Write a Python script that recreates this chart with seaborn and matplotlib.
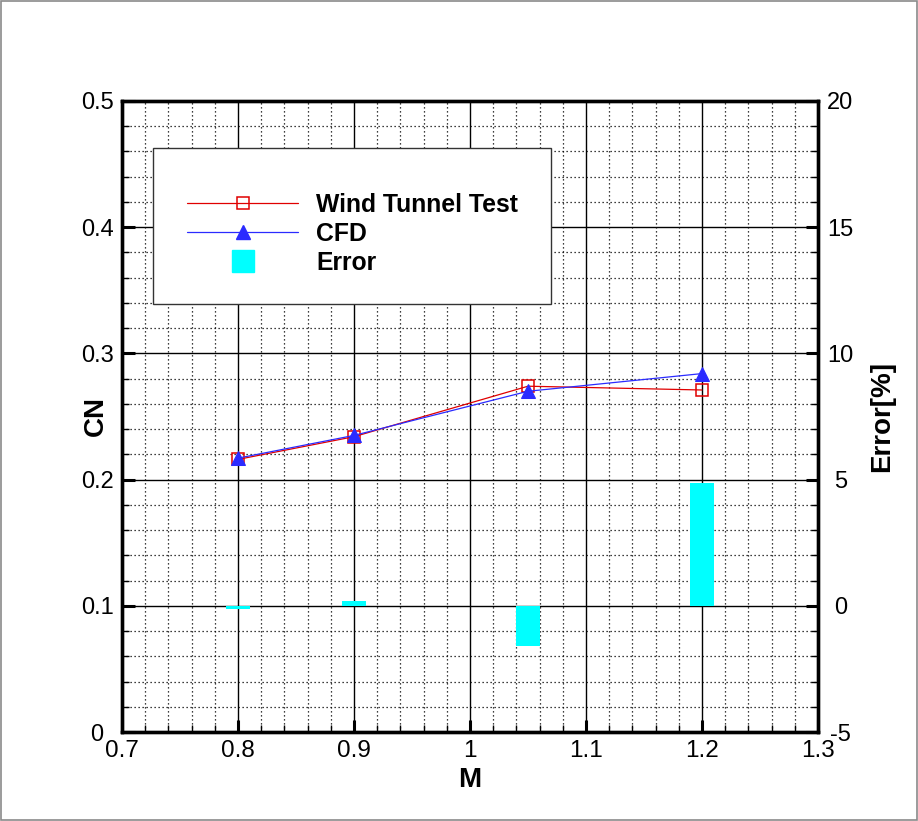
import matplotlib
matplotlib.use("Agg")
import matplotlib.pyplot as plt
import numpy as np
import pandas as pd
import seaborn as sns
from matplotlib.lines import Line2D
from matplotlib.patches import Rectangle
from matplotlib.ticker import MultipleLocator, FixedLocator

# Mach numbers and normal-force coefficients
mach = [0.8, 0.9, 1.05, 1.2]
cn_wind_tunnel = [0.216, 0.234, 0.274, 0.271]
cn_cfd = [0.217, 0.235, 0.270, 0.284]
error_pct = [-0.12, 0.2, -1.6, 4.85]

x_ticks = [0.7, 0.8, 0.9, 1.0, 1.1, 1.2, 1.3]
x_tick_labels = ["0.7", "0.8", "0.9", "1", "1.1", "1.2", "1.3"]
cn_ticks = [0.0, 0.1, 0.2, 0.3, 0.4, 0.5]
cn_tick_labels = ["0", "0.1", "0.2", "0.3", "0.4", "0.5"]
err_ticks = [-5, 0, 5, 10, 15, 20]
err_tick_labels = ["-5", "0", "5", "10", "15", "20"]

sns.set_theme(style="white")
plt.rcParams["font.family"] = ["Liberation Sans", "DejaVu Sans"]
plt.rcParams["text.color"] = "black"
plt.rcParams["axes.labelcolor"] = "black"

fig = plt.figure(figsize=(9.18, 8.21), dpi=100)
fig.patches.append(Rectangle((0.001, 0.001), 0.998, 0.998, transform=fig.transFigure,
                             fill=False, edgecolor="#8a8a8a", lw=1.2))

ax = fig.add_axes([0.1329, 0.1084, 0.7582, 0.7686])

df = pd.DataFrame({"M": mach, "WTT": cn_wind_tunnel, "CFD": cn_cfd, "Error": error_pct})

red = "#e00000"
blue = "#2b2bff"
sns.lineplot(data=df, x="M", y="WTT", ax=ax, color=red, lw=0.9, marker="s",
             markersize=8, markerfacecolor="none", markeredgecolor=red,
             markeredgewidth=1.1, legend=False, zorder=4)
sns.lineplot(data=df, x="M", y="CFD", ax=ax, color=blue, lw=0.9, marker="^",
             markersize=9.5, markerfacecolor=blue, markeredgecolor=blue,
             legend=False, zorder=5)

ax.set_xlim(0.7, 1.3)
ax.set_ylim(0.0, 0.5)
ax.xaxis.set_major_locator(FixedLocator(x_ticks))
ax.set_xticklabels(x_tick_labels)
ax.xaxis.set_minor_locator(MultipleLocator(0.02))
ax.yaxis.set_major_locator(FixedLocator(cn_ticks))
ax.set_yticklabels(cn_tick_labels)
ax.yaxis.set_minor_locator(MultipleLocator(0.02))

ax.set_axisbelow(True)
ax.grid(which="major", color="black", lw=1.0, ls="-")
ax.grid(which="minor", color="black", lw=0.9, ls=(0, (1, 2.2)))

ax.tick_params(axis="x", which="major", labelsize=17.5, pad=6)
ax.tick_params(axis="y", which="major", labelsize=17, pad=18)
ax.tick_params(which="major", direction="in", length=9, width=2.2, colors="black",
               top=False, right=False, bottom=True, left=True)
ax.tick_params(which="minor", direction="in", length=5, width=1, colors="black",
               top=False, right=False, bottom=True, left=True)
for lab in ax.get_yticklabels():
    lab.set_horizontalalignment("center")

for sp in ax.spines.values():
    sp.set_color("black")
    sp.set_linewidth(2.4)

ax.set_xlabel("M", fontsize=20, fontweight="bold", labelpad=3)
ax.set_ylabel("CN", fontsize=20, fontweight="bold", labelpad=-20)

# Error percentage bars on the secondary axis
ax2 = ax.twinx()
sns.barplot(data=df, x="M", y="Error", ax=ax2, native_scale=True, width=0.2,
            color="#00ffff", saturation=1, errorbar=None, linewidth=0, zorder=3)
ax2.set_xlim(0.7, 1.3)
ax2.set_ylim(-5, 20)
ax2.yaxis.set_major_locator(FixedLocator(err_ticks))
ax2.set_yticklabels(err_tick_labels)
ax2.yaxis.set_minor_locator(MultipleLocator(1))
ax2.tick_params(which="major", direction="in", length=9, width=2.2, colors="black",
                labelsize=17, pad=16, right=True, left=False)
ax2.tick_params(which="minor", direction="in", length=5, width=1, colors="black",
                right=True, left=False)
for lab in ax2.get_yticklabels():
    lab.set_horizontalalignment("center")
ax2.set_ylabel("Error[%]", fontsize=20, fontweight="bold", labelpad=11)
ax2.set_xlabel("")
for sp in ax2.spines.values():
    sp.set_color("black")
    sp.set_linewidth(2.4)
ax2.grid(False)

# Legend box
ax2.add_patch(Rectangle((0.0445, 0.678), 0.572, 0.2475, transform=ax2.transAxes,
                        facecolor="white", edgecolor="#333333", lw=1.0, zorder=6))
handles = [
    Line2D([], [], color=red, lw=0.9, marker="s", markersize=8, markerfacecolor="none",
           markeredgecolor=red, markeredgewidth=1.1),
    Line2D([], [], color=blue, lw=0.9, marker="^", markersize=9.5, markerfacecolor=blue,
           markeredgecolor=blue),
    Line2D([], [], color="#00ffff", lw=0, marker="s", markersize=16),
]
leg = ax2.legend(handles, ["Wind Tunnel Test", "CFD", "Error"], loc="upper left",
                 bbox_to_anchor=(0.0934, 0.854), frameon=False, borderpad=0,
                 borderaxespad=0, handlelength=4.5, handletextpad=0.72,
                 labelspacing=0.2, prop={"weight": "bold", "size": 17.8})
for txt in leg.get_texts():
    txt.set_color("black")
leg.set_zorder(7)

fig.savefig("out.png", dpi=100)
